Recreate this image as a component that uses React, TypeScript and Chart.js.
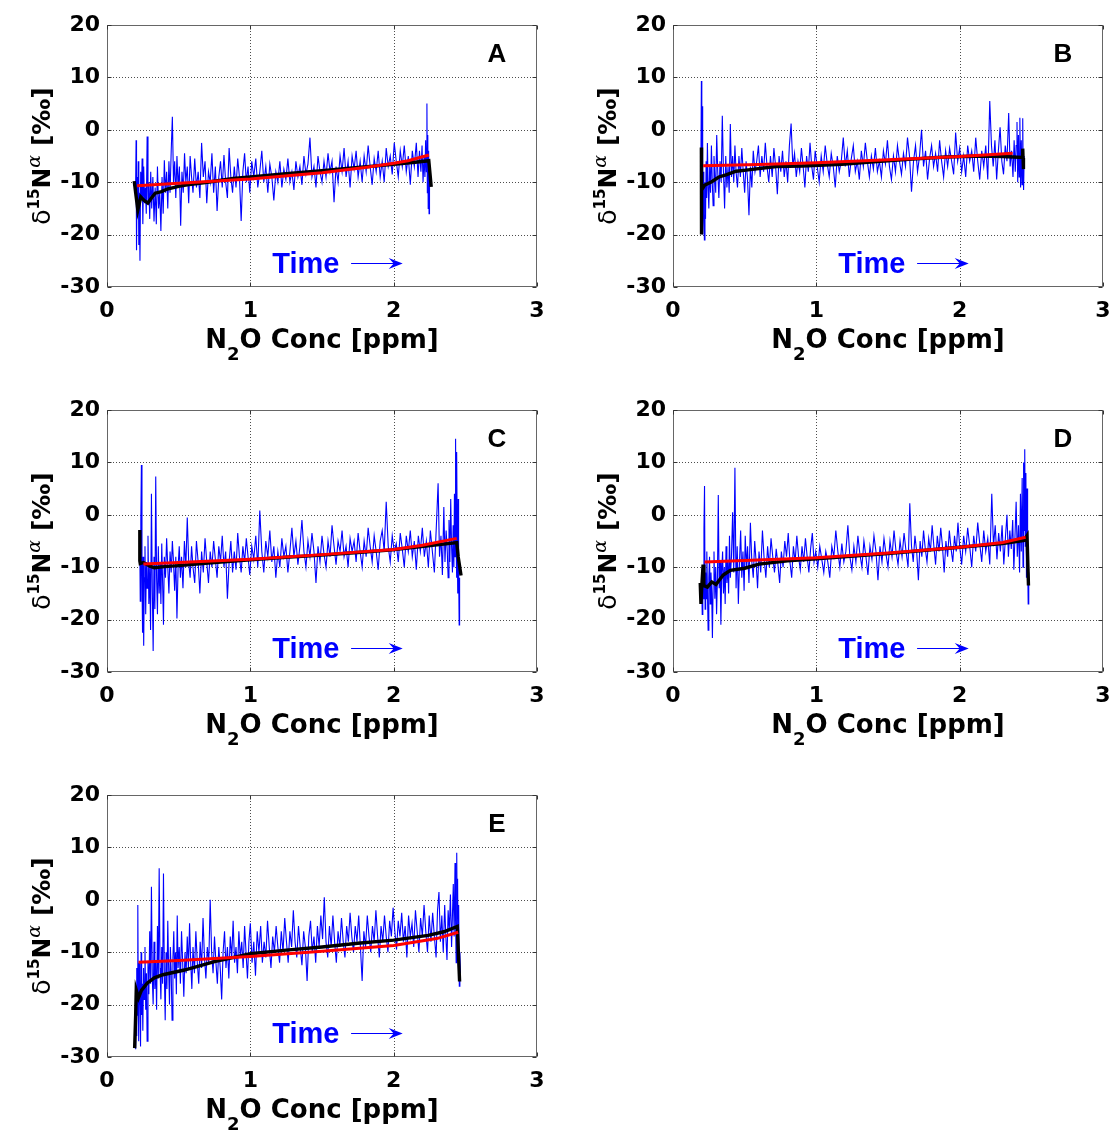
import React, { useEffect, useRef } from "react";
import { Chart, registerables } from "chart.js";

Chart.register(...registerables);

type P = [number, number];

// ---------- axis ticks ----------
const xTickValues = [0, 1, 2, 3];
const yTickValues = [-30, -20, -10, 0, 10, 20];

// ---------- text ----------
const panelLetters = ["A", "B", "C", "D", "E"];
const xTitleParts = ["N", "2", "O Conc [ppm]"];
const yTitleParts = ["\u03b4", "15", "N", "\u03b1", " [\u2030]"];
const timeLabel = "Time";

// ---------- panel A ----------
const blueA: P[] = [
  [0.2, -10], [0.203, -2], [0.206, -23], [0.21, -9], [0.214, -16], [0.218, -6], [0.222, -22], [0.226, -12],
  [0.23, -25], [0.235, -8], [0.24, -13], [0.245, -5.5], [0.25, -18], [0.256, -7], [0.262, -14], [0.268, -11],
  [0.274, -16], [0.28, -1.3], [0.286, -14], [0.292, -10], [0.298, -17], [0.305, -8], [0.312, -15], [0.32, -9],
  [0.328, -17.5], [0.336, -11], [0.344, -18], [0.352, -7], [0.36, -15], [0.368, -12], [0.376, -19.3], [0.384, -9],
  [0.392, -16], [0.4, -5.8], [0.408, -12], [0.416, -8], [0.424, -15], [0.432, -6], [0.44, -12], [0.448, -4],
  [0.456, 2.5], [0.464, -10], [0.472, -6], [0.48, -13], [0.488, -5], [0.496, -11], [0.505, -7], [0.514, -18.3],
  [0.523, -8], [0.532, -12], [0.541, -4.5], [0.55, -10], [0.56, -7], [0.57, -14], [0.58, -5], [0.59, -9],
  [0.6, -12], [0.612, -5.5], [0.624, -11], [0.636, -8], [0.648, -13], [0.66, -2.5], [0.672, -9], [0.684, -6],
  [0.696, -14], [0.708, -8], [0.72, -10], [0.732, -4.5], [0.744, -12], [0.756, -7], [0.768, -15.5], [0.78, -9],
  [0.792, -6], [0.804, -11], [0.816, -4.8], [0.828, -10], [0.84, -13], [0.852, -3.5], [0.864, -9], [0.876, -12],
  [0.888, -7], [0.9, -11], [0.912, -5.5], [0.924, -9], [0.936, -17.4], [0.948, -8], [0.96, -4.5], [0.972, -10],
  [0.984, -7], [0.996, -12], [1.01, -6], [1.024, -9], [1.038, -5.5], [1.052, -11], [1.066, -8], [1.08, -4],
  [1.094, -10], [1.108, -7], [1.122, -12], [1.136, -6.5], [1.15, -9], [1.164, -13.5], [1.178, -8], [1.192, -10],
  [1.206, -6], [1.22, -11], [1.234, -7.5], [1.248, -9.5], [1.262, -5.5], [1.276, -10], [1.29, -8], [1.304, -11.5],
  [1.318, -6], [1.332, -9], [1.346, -7], [1.36, -10.5], [1.374, -5], [1.388, -8.5], [1.402, -6.5], [1.416, -1.5],
  [1.43, -9], [1.444, -7], [1.458, -11], [1.472, -5], [1.486, -8], [1.5, -10], [1.514, -6], [1.528, -9],
  [1.542, -4.5], [1.556, -8], [1.57, -6], [1.584, -13.8], [1.598, -7], [1.612, -10], [1.626, -5], [1.64, -8],
  [1.654, -3.5], [1.668, -9], [1.682, -6], [1.696, -11], [1.71, -5], [1.724, -7.5], [1.738, -4], [1.752, -9],
  [1.766, -6], [1.78, -10], [1.794, -5], [1.808, -8], [1.822, -3], [1.836, -7], [1.85, -10.5], [1.864, -5.5],
  [1.878, -8], [1.892, -4], [1.906, -9], [1.92, -6], [1.934, -10], [1.948, -3.5], [1.962, -7], [1.976, -5],
  [1.99, -8.5], [2.004, -2.5], [2.018, -6], [2.032, -9], [2.046, -4], [2.06, -7], [2.074, -3], [2.088, -8],
  [2.102, -5], [2.116, -10.5], [2.13, -4], [2.144, -7], [2.158, -2.5], [2.17, -9], [2.18, -4], [2.19, -8],
  [2.198, -3], [2.205, -10], [2.212, -5], [2.218, -9], [2.223, -2], [2.228, -8], [2.232, 5], [2.235, -12],
  [2.238, -1], [2.241, -15], [2.244, -4], [2.247, -16], [2.25, -8],
];
const blackA: P[] = [
  [0.19, -9.8], [0.2, -12], [0.215, -15.3], [0.236, -12.8], [0.26, -13.5], [0.285, -14], [0.31, -13],
  [0.336, -12.1], [0.38, -11.8], [0.42, -11.3], [0.5, -10.8], [0.56, -10.5], [0.7, -10], [0.88, -9.3],
  [1.0, -9.0], [1.25, -8.4], [1.5, -7.8], [1.75, -7.2], [2.0, -6.6], [2.15, -6.2], [2.245, -5.9], [2.262, -10.9],
];
const redA: P[] = [
  [0.21, -10.7], [0.5, -10.2], [1.0, -9.4], [1.5, -8.2], [1.8, -7.2], [2.0, -6.4], [2.1, -5.9], [2.246, -4.8],
];

// ---------- panel B ----------
const blueB: P[] = [
  [0.195, -5], [0.198, 9.3], [0.201, -12], [0.204, 4.5], [0.207, -20], [0.211, -8], [0.215, -16], [0.219, -21],
  [0.223, -10], [0.227, -17], [0.231, -6], [0.235, -13], [0.24, -2.5], [0.245, -11], [0.25, -15], [0.256, -7],
  [0.262, -12], [0.268, -3], [0.274, -10], [0.28, -14.5], [0.286, -5], [0.292, -9], [0.298, -12], [0.305, -1],
  [0.312, -8], [0.32, -13], [0.328, -6], [0.336, -10], [0.344, 2.7], [0.352, -8], [0.36, -15], [0.368, -5],
  [0.376, -11], [0.384, -7], [0.392, -12], [0.4, 1.1], [0.408, -9], [0.416, -5], [0.424, -10], [0.432, -3],
  [0.44, -8], [0.45, -11], [0.46, -5], [0.47, -9], [0.48, -3.5], [0.49, -8], [0.5, -12], [0.51, -6],
  [0.52, -9.5], [0.53, -16.3], [0.54, -7], [0.55, -11], [0.56, -4], [0.572, -8], [0.584, -6], [0.596, -3],
  [0.608, -9], [0.62, -5], [0.632, -8], [0.644, -2.5], [0.656, -7], [0.668, -10], [0.68, -5], [0.692, -9],
  [0.704, -3.5], [0.716, -7], [0.728, -12.3], [0.74, -5], [0.752, -8], [0.764, -4], [0.776, -9], [0.788, -6],
  [0.8, -10], [0.812, -3], [0.824, 1.2], [0.836, -7], [0.848, -4.5], [0.86, -9], [0.872, -6], [0.884, -8],
  [0.896, -3.5], [0.908, -7], [0.92, -11], [0.932, -5], [0.944, -8], [0.956, -2.5], [0.968, -7], [0.98, -9.5],
  [0.992, -4], [1.006, -7], [1.02, -10], [1.034, -5], [1.048, -8], [1.062, -3], [1.076, -6.5], [1.09, -9],
  [1.104, -4.5], [1.118, -7], [1.132, -11], [1.146, -5], [1.16, -8], [1.174, -6], [1.188, -1.5], [1.202, -7],
  [1.216, -4], [1.23, -9], [1.244, -5.5], [1.258, -3], [1.272, -8], [1.286, -6], [1.3, -9.5], [1.314, -4],
  [1.328, -7], [1.342, -2.5], [1.356, -6], [1.37, -9], [1.384, -5], [1.398, -7.5], [1.412, -3.5], [1.426, -8],
  [1.44, -6], [1.454, -9], [1.468, -4], [1.482, -6.5], [1.496, -2], [1.51, -7], [1.524, -9.5], [1.538, -5],
  [1.552, -8], [1.566, -3], [1.58, -6], [1.594, -8.5], [1.608, -4.5], [1.622, -7], [1.636, -1.5], [1.65, -5],
  [1.664, -11.8], [1.678, -6], [1.692, -3], [1.706, -8], [1.72, -5], [1.734, 0], [1.748, -7], [1.762, -4],
  [1.776, -9.5], [1.79, -5.5], [1.804, -3], [1.818, -7], [1.832, -4.5], [1.846, -8], [1.86, -2], [1.874, -6],
  [1.888, -9], [1.902, -4], [1.916, -7], [1.93, -3.5], [1.944, -6], [1.958, -8.5], [1.972, -0.5], [1.986, -6],
  [2.0, -3.5], [2.014, -8], [2.028, -5], [2.042, -9], [2.056, -3], [2.07, -6], [2.084, -4], [2.098, -8],
  [2.112, -1.5], [2.126, -6], [2.14, -9.5], [2.154, -4], [2.168, -7], [2.182, -3], [2.196, -9.5], [2.21, 5.5],
  [2.222, -3], [2.234, -7], [2.246, -2], [2.258, -9.5], [2.27, -4], [2.282, 0.5], [2.294, -6], [2.306, -8.5],
  [2.318, -3], [2.33, -6], [2.342, 3.2], [2.352, -7], [2.362, -4], [2.372, -9], [2.38, -2], [2.388, -8],
  [2.394, -3], [2.4, 1.5], [2.405, -10], [2.41, -1], [2.415, -9], [2.42, 2.3], [2.425, -11], [2.43, -2],
  [2.435, -10.5], [2.44, 2.2], [2.443, -8], [2.446, -11.5], [2.45, -5],
];
const blackB: P[] = [
  [0.198, -3.4], [0.198, -20], [0.2, -11.5], [0.22, -10.6], [0.27, -9.9], [0.32, -9.0], [0.37, -8.6],
  [0.44, -7.9], [0.51, -7.7], [0.72, -7.0], [0.9, -6.9], [1.18, -6.6], [1.4, -6.1], [1.67, -5.6],
  [1.9, -5.2], [2.16, -5.0], [2.3, -5.1], [2.44, -5.3], [2.44, -3.6], [2.445, -7.5], [2.445, -5.4],
];
const redB: P[] = [
  [0.21, -6.85], [0.6, -6.6], [1.0, -6.3], [1.5, -5.7], [2.0, -5.1], [2.37, -4.46],
];

// ---------- panel C ----------
const blueC: P[] = [
  [0.228, -3], [0.232, -16.5], [0.236, -1], [0.24, 9.5], [0.244, -12], [0.248, -22.5], [0.252, -8], [0.256, -25],
  [0.26, -12], [0.265, -6], [0.27, -19], [0.275, -9], [0.28, -14], [0.286, -4], [0.292, -17], [0.298, -10],
  [0.304, -22], [0.31, 4], [0.316, -14], [0.322, -26], [0.328, -8], [0.334, -18], [0.34, 7.3], [0.346, -12],
  [0.352, -19], [0.358, -6], [0.364, -15], [0.37, -9], [0.376, -17], [0.382, -5.5], [0.388, -13], [0.394, -21],
  [0.4, -8], [0.408, -12], [0.416, -4.5], [0.424, -10], [0.432, -15], [0.44, -7], [0.448, -11], [0.456, -5],
  [0.464, -9], [0.472, -14.5], [0.48, -8], [0.488, -19.8], [0.496, -10], [0.504, -6], [0.512, -12], [0.52, -8],
  [0.53, -14], [0.54, -5], [0.55, -10], [0.56, -0.5], [0.57, -9], [0.58, -12], [0.59, -6], [0.6, -10],
  [0.612, -13], [0.624, -5], [0.636, -9], [0.648, -15], [0.66, -7], [0.672, -11], [0.684, -4.5], [0.696, -9],
  [0.708, -13], [0.72, -7], [0.732, -10], [0.744, -5], [0.756, -8.5], [0.768, -12], [0.78, -6], [0.792, -9],
  [0.804, -4], [0.816, -10], [0.828, -7], [0.84, -16], [0.852, -9], [0.864, -5], [0.876, -11], [0.888, -7],
  [0.9, -10.5], [0.912, -3.5], [0.924, -8], [0.936, -11], [0.948, -6], [0.96, -9], [0.972, -4.5], [0.984, -8],
  [0.996, -11.5], [1.01, -6], [1.024, -8.5], [1.038, -4], [1.052, -10], [1.066, 0.8], [1.08, -7], [1.094, -11],
  [1.108, -5], [1.122, -8], [1.136, -3], [1.15, -9], [1.164, -6], [1.178, -12], [1.192, -7], [1.206, -10],
  [1.22, -4.5], [1.234, -8], [1.248, -6], [1.262, -11], [1.276, -7], [1.29, -2.5], [1.304, -8], [1.318, -5],
  [1.332, -9.5], [1.346, -6], [1.36, -1], [1.374, -7], [1.388, -10], [1.402, -5], [1.416, -8], [1.43, -3.5],
  [1.444, -7], [1.458, -13], [1.472, -6], [1.486, -9], [1.5, -4], [1.514, -7.5], [1.528, -10], [1.542, -5],
  [1.556, -8], [1.57, -2], [1.584, -6], [1.598, -9.5], [1.612, -5], [1.626, -7], [1.64, -3], [1.654, -8],
  [1.668, -6], [1.682, -10], [1.696, -4.5], [1.71, -7], [1.724, -5], [1.738, -9], [1.752, -3.5], [1.766, -7],
  [1.78, -10], [1.794, -5], [1.808, -8], [1.822, -2.5], [1.836, -6], [1.85, -9], [1.864, -4], [1.878, -7],
  [1.892, -10.5], [1.906, -5], [1.92, -3], [1.934, -7], [1.948, 2.5], [1.962, -6], [1.976, -9], [1.99, -4],
  [2.004, -7], [2.018, -5.5], [2.032, -9], [2.046, -3.5], [2.06, -6.5], [2.074, -10], [2.088, -4], [2.102, -7],
  [2.116, -3], [2.13, -8], [2.144, -5], [2.158, -10.5], [2.172, -4], [2.186, -7], [2.2, -2.5], [2.214, -8],
  [2.228, -5], [2.242, -10], [2.256, -3], [2.27, -7], [2.284, -11], [2.298, -2], [2.31, 6], [2.32, -8],
  [2.33, -4], [2.34, -11.5], [2.35, 1.5], [2.358, -9], [2.366, -3], [2.374, -7], [2.38, -12], [2.386, -1],
  [2.392, -9], [2.398, 3], [2.404, -6], [2.41, -11], [2.415, -2], [2.42, -10], [2.424, 4], [2.428, -8],
  [2.432, 14.5], [2.435, -4], [2.438, -12], [2.441, 12], [2.444, -6], [2.447, -15], [2.45, 3], [2.453, -10],
  [2.457, -21], [2.46, -12],
];
const blackC: P[] = [
  [0.229, -2.9], [0.229, -8.8], [0.232, -9.3], [0.254, -9.1], [0.3, -9.8], [0.33, -10.1], [0.4, -9.9],
  [0.5, -9.7], [0.75, -9.1], [1.0, -8.6], [1.25, -8.1], [1.5, -7.7], [1.75, -7.2], [1.99, -6.7],
  [2.24, -5.9], [2.38, -5.5], [2.44, -5.3], [2.45, -8], [2.47, -11.6],
];
const redC: P[] = [
  [0.254, -9.4], [0.5, -9.1], [1.0, -8.5], [1.5, -7.6], [2.0, -6.6], [2.2, -5.8], [2.44, -4.5],
];

// ---------- panel D ----------
const blueD: P[] = [
  [0.2, -13], [0.204, -19], [0.208, -10], [0.212, -16], [0.216, -2.5], [0.22, 5.5], [0.224, -18], [0.228, -11],
  [0.232, -16], [0.236, -7], [0.24, -14], [0.245, -22], [0.25, -12], [0.255, -8], [0.26, -17], [0.265, -11],
  [0.27, -15], [0.275, -23.5], [0.28, -13], [0.286, -7], [0.292, -16], [0.298, -10], [0.304, -19], [0.31, -12],
  [0.316, 3.8], [0.322, -14], [0.328, -9], [0.334, -21], [0.34, -11], [0.346, -7], [0.352, -15], [0.358, -10],
  [0.364, -17], [0.37, -6], [0.376, -13], [0.382, -9], [0.388, -15], [0.394, -4], [0.4, -12], [0.408, -8],
  [0.416, 0.5], [0.424, -11], [0.432, 9], [0.44, -14], [0.448, -6], [0.456, -17], [0.464, -9], [0.472, -3],
  [0.48, -12], [0.488, -7], [0.496, -14.5], [0.504, -4], [0.512, -10], [0.52, -6], [0.53, -13], [0.54, -1.5],
  [0.55, -9], [0.56, -12], [0.57, -5], [0.58, -9], [0.59, -14], [0.6, -7], [0.612, -11], [0.624, -3],
  [0.636, -8.5], [0.648, -12], [0.66, -6], [0.672, -10], [0.684, -4.5], [0.696, -8], [0.708, -11], [0.72, -6.5],
  [0.732, -9.5], [0.744, -13], [0.756, -7], [0.768, -10], [0.78, -5], [0.792, -8], [0.804, -3.5], [0.816, -9],
  [0.828, -12], [0.84, -6], [0.852, -9], [0.864, -4], [0.876, -8], [0.888, -10.5], [0.9, -6], [0.912, -9],
  [0.924, -4.5], [0.936, -8], [0.948, -11], [0.96, -6.5], [0.972, -3.5], [0.984, -9], [0.996, -7], [1.01, -10],
  [1.024, -6], [1.038, -8.5], [1.052, -11], [1.066, -7], [1.08, -9], [1.094, -12], [1.108, -6], [1.122, -8],
  [1.136, -3], [1.15, -7], [1.164, -10], [1.178, -5.5], [1.192, -9], [1.206, -7], [1.22, -2], [1.234, -8],
  [1.248, -10.5], [1.262, -6], [1.276, -9], [1.29, -4], [1.304, -7.5], [1.318, -10], [1.332, -5], [1.346, -8],
  [1.36, -11.5], [1.374, -6], [1.388, -8.5], [1.402, -4], [1.416, -7], [1.43, -12.5], [1.444, -6], [1.458, -9],
  [1.472, -4.5], [1.486, -7.5], [1.5, -10], [1.514, -5], [1.528, -8], [1.542, -3], [1.556, -7], [1.57, -9.5],
  [1.584, -5], [1.598, -8], [1.612, -3.5], [1.626, -7], [1.64, -10], [1.652, 2.2], [1.664, -6], [1.676, -9],
  [1.688, -4], [1.7, -7], [1.712, -12.5], [1.724, -5], [1.736, -8], [1.748, -3], [1.76, -6.5], [1.772, -9],
  [1.784, -4.5], [1.796, -7], [1.808, -2], [1.82, -6], [1.832, -9.5], [1.844, -4], [1.856, -7], [1.868, -2.5],
  [1.88, -6], [1.892, -11], [1.904, -5], [1.916, -8], [1.928, -3], [1.94, -6.5], [1.952, -9], [1.964, -4],
  [1.976, -7], [1.988, -1.5], [2.0, -6], [2.014, -9.5], [2.028, -4], [2.042, -7], [2.056, -2.5], [2.07, -6],
  [2.084, -10], [2.098, -4], [2.112, -7], [2.126, -1.5], [2.14, -5.5], [2.154, -9], [2.168, -3], [2.182, -7],
  [2.196, -4.5], [2.21, -9.5], [2.224, 4], [2.236, -6], [2.248, -2], [2.26, -8.5], [2.272, -3.5], [2.284, -7],
  [2.296, -2], [2.308, -9.5], [2.32, -4], [2.33, 0], [2.34, -8], [2.35, -3], [2.36, -6.5], [2.37, -1],
  [2.378, -10.5], [2.386, -4], [2.394, 2.5], [2.402, -8], [2.41, -2], [2.418, -11], [2.424, 4], [2.43, -7],
  [2.436, 7], [2.442, -10], [2.446, 10], [2.45, -3], [2.454, 12.5], [2.458, -6], [2.462, 8], [2.466, -12],
  [2.47, 5], [2.474, -8], [2.478, -17], [2.482, -11],
];
const blackD: P[] = [
  [0.19, -13], [0.195, -17], [0.2, -14], [0.21, -9.5], [0.215, -13.5], [0.24, -13.8], [0.27, -12.8],
  [0.3, -13.3], [0.35, -11.5], [0.4, -10.6], [0.5, -10.2], [0.6, -9.4], [0.8, -8.8], [1.0, -8.4],
  [1.5, -7.4], [2.0, -6.2], [2.3, -5.5], [2.45, -4.9], [2.47, -4.0], [2.48, -13.5],
];
const redD: P[] = [
  [0.22, -9.0], [0.5, -8.7], [1.0, -8.2], [1.5, -7.3], [2.0, -6.2], [2.3, -5.3], [2.46, -4.3],
];

// ---------- panel E ----------
const blueE: P[] = [
  [0.2, -28.5], [0.203, -20], [0.206, -26], [0.209, -13], [0.212, -22], [0.215, -1], [0.218, -18], [0.221, -27],
  [0.224, -12], [0.227, -20], [0.23, -15], [0.234, -28], [0.238, -10], [0.242, -22], [0.246, -16], [0.25, -25],
  [0.255, -13], [0.26, -19], [0.265, -9], [0.27, -21], [0.275, -14], [0.28, -27], [0.286, -12], [0.292, -18],
  [0.298, -6], [0.304, -16], [0.31, 2.5], [0.316, -15], [0.322, -20], [0.328, -8], [0.334, -17], [0.34, -12],
  [0.346, -21], [0.352, -5], [0.358, -15], [0.364, 6], [0.37, -13], [0.376, -19], [0.382, -9], [0.388, -16],
  [0.394, 5], [0.4, -14], [0.406, -23], [0.412, -10], [0.418, -17], [0.424, -4], [0.43, -13], [0.436, -20],
  [0.442, -9], [0.448, -14], [0.454, -23], [0.46, -11], [0.466, -6], [0.472, -15], [0.478, -10], [0.484, -18],
  [0.49, -3], [0.496, -13], [0.504, -9], [0.512, -16], [0.52, -6], [0.528, -12], [0.536, -18.5], [0.544, -10],
  [0.552, -14], [0.56, -7], [0.568, -13], [0.576, -4.5], [0.584, -12], [0.592, -17], [0.6, -9], [0.61, -14],
  [0.62, -6], [0.63, -12], [0.64, -16], [0.65, -8], [0.66, -13], [0.67, -3.5], [0.68, -11], [0.69, -15],
  [0.7, -9], [0.71, -12], [0.72, 0], [0.73, -10], [0.74, -14], [0.75, -7], [0.76, -12], [0.77, -16],
  [0.78, -9], [0.79, -13], [0.8, -19], [0.81, -10], [0.82, -6], [0.83, -13], [0.84, -9], [0.85, -15],
  [0.86, -7], [0.87, -11], [0.88, -4], [0.89, -12], [0.9, -9], [0.91, -14], [0.92, -6], [0.93, -11],
  [0.94, -8], [0.95, -13], [0.96, -5], [0.97, -10], [0.98, -15], [0.99, -8], [1.0, -4.5], [1.012, -12],
  [1.024, -8], [1.036, -14.5], [1.048, -6], [1.06, -10], [1.072, -5], [1.084, -12], [1.096, -8], [1.108, -11],
  [1.12, -4], [1.132, -9], [1.144, -13], [1.156, -7], [1.168, -10], [1.18, -5], [1.192, -9], [1.204, -12],
  [1.216, -6], [1.228, -10], [1.24, -3.5], [1.252, -8], [1.264, -12], [1.276, -6], [1.288, -9], [1.3, -2],
  [1.312, -8], [1.324, -11], [1.336, -5], [1.348, -9], [1.36, -12.5], [1.372, -6], [1.384, -9], [1.396, -15.5],
  [1.408, -7], [1.42, -4], [1.432, -10], [1.444, -7], [1.456, -12], [1.468, -5], [1.48, -9], [1.492, -3],
  [1.504, -7.5], [1.516, 0.5], [1.528, -8], [1.54, -11], [1.552, -5], [1.564, -9], [1.576, -3], [1.588, -8],
  [1.6, -12], [1.612, -6], [1.624, -9], [1.636, -3.5], [1.648, -8], [1.66, -11], [1.672, -5], [1.684, -8],
  [1.696, -2.5], [1.708, -7], [1.72, -10], [1.732, -5], [1.744, -8], [1.756, -3], [1.768, -9], [1.78, -15.5],
  [1.792, -6], [1.804, -9], [1.816, -3], [1.828, -7], [1.84, -10], [1.852, -5], [1.864, -8], [1.876, -2],
  [1.888, -7], [1.9, -11], [1.912, -5], [1.924, -8], [1.936, -3], [1.948, -7], [1.96, -10], [1.972, -4],
  [1.984, -7], [1.996, -1.5], [2.008, -6], [2.02, -9.5], [2.032, -4], [2.044, -7], [2.056, -2.5], [2.068, -8],
  [2.08, -5], [2.092, -11], [2.104, -3], [2.116, -7], [2.128, -4.5], [2.14, -9], [2.152, -2], [2.164, -6],
  [2.176, -10], [2.188, -3.5], [2.2, -7], [2.212, -1], [2.224, -6], [2.236, -10], [2.248, -3], [2.26, -8],
  [2.272, -2.5], [2.284, -7], [2.296, -11], [2.306, -2], [2.316, 1.5], [2.326, -8], [2.336, -3], [2.346, -10],
  [2.356, -1], [2.364, -7], [2.372, -11.5], [2.38, -2], [2.388, -6], [2.396, 1], [2.404, -9], [2.41, -3],
  [2.416, 3], [2.422, -7], [2.428, 7], [2.432, -4], [2.436, -12], [2.44, 9], [2.443, -2], [2.446, 4],
  [2.449, -8], [2.452, -14], [2.455, -1], [2.458, -16.5], [2.462, -10], [2.466, -14],
];
const blackE: P[] = [
  [0.193, -28.3], [0.2, -22], [0.204, -17.2], [0.22, -18.7], [0.24, -17.3], [0.28, -15.9], [0.33, -14.9],
  [0.39, -14.3], [0.54, -13.4], [0.75, -11.8], [1.0, -10.3], [1.25, -9.6], [1.5, -9.0], [1.75, -8.3],
  [2.0, -7.7], [2.24, -6.8], [2.35, -6.1], [2.444, -5.1], [2.46, -15.6],
];
const redE: P[] = [
  [0.22, -11.9], [0.5, -11.6], [1.0, -10.8], [1.5, -9.8], [2.0, -8.7], [2.3, -7.4], [2.45, -6.2],
];

// ---------- annotation anchors (data coordinates) ----------
const timeAnchor = { x: 1.153, y: -27.3 };
const arrowFrom = { x: 1.703, y: -25.4 };
const arrowTo = { x: 2.063, y: -25.4 };
const letterAnchor = { x: 2.72, y: 14.3 };

const panels = [
  { letter: panelLetters[0], blue: blueA, black: blackA, red: redA, left: 0, top: 0 },
  { letter: panelLetters[1], blue: blueB, black: blackB, red: redB, left: 566, top: 0 },
  { letter: panelLetters[2], blue: blueC, black: blackC, red: redC, left: 0, top: 385 },
  { letter: panelLetters[3], blue: blueD, black: blackD, red: redD, left: 566, top: 385 },
  { letter: panelLetters[4], blue: blueE, black: blackE, red: redE, left: 0, top: 770 },
];

const CW = 548;
const CH = 366;
const TICK_FONT = "DejaVu Sans";
const LABEL_FONT = "DejaVu Sans";

function decoPlugin(letter: string) {
  return {
    id: "deco",
    beforeDatasetsDraw(chart: any) {
      const { ctx, chartArea: a, scales } = chart;
      const xs = scales.x;
      const ys = scales.y;
      ctx.save();
      ctx.strokeStyle = "#4d4d4d";
      ctx.lineWidth = 1;
      ctx.setLineDash([1, 2]);
      for (const v of xTickValues) {
        if (v <= xs.min || v >= xs.max) continue;
        const px = Math.round(xs.getPixelForValue(v)) + 0.5;
        ctx.beginPath();
        ctx.moveTo(px, a.top);
        ctx.lineTo(px, a.bottom);
        ctx.stroke();
      }
      for (const v of yTickValues) {
        if (v <= ys.min || v >= ys.max) continue;
        const py = Math.round(ys.getPixelForValue(v)) + 0.5;
        ctx.beginPath();
        ctx.moveTo(a.left, py);
        ctx.lineTo(a.right, py);
        ctx.stroke();
      }
      ctx.restore();
    },
    afterDatasetsDraw(chart: any) {
      const { ctx, chartArea: a, scales } = chart;
      const xs = scales.x;
      const ys = scales.y;
      ctx.save();
      ctx.strokeStyle = "#666666";
      ctx.lineWidth = 1;
      ctx.setLineDash([]);
      const l = Math.round(a.left) + 0.5;
      const r = Math.round(a.right) - 0.5;
      const t = Math.round(a.top) + 0.5;
      const b = Math.round(a.bottom) - 0.5;
      ctx.strokeRect(l, t, r - l, b - t);
      const tl = 4;
      ctx.strokeStyle = "#333333";
      ctx.beginPath();
      for (const v of xTickValues) {
        const px = Math.round(xs.getPixelForValue(v)) + 0.5;
        ctx.moveTo(px, b);
        ctx.lineTo(px, b - tl);
        ctx.moveTo(px, t);
        ctx.lineTo(px, t + tl);
      }
      for (const v of yTickValues) {
        const py = Math.round(ys.getPixelForValue(v)) + 0.5;
        ctx.moveTo(l, py);
        ctx.lineTo(l + tl, py);
        ctx.moveTo(r, py);
        ctx.lineTo(r - tl, py);
      }
      ctx.stroke();
      ctx.restore();
    },
    afterDraw(chart: any) {
      const { ctx, chartArea: a, scales } = chart;
      const xs = scales.x;
      const ys = scales.y;
      ctx.save();
      ctx.fillStyle = "#000";
      ctx.textBaseline = "alphabetic";
      ctx.textAlign = "left";

      // x title: N2O Conc [ppm]
      const big = `bold 26px "${LABEL_FONT}"`;
      const sub = `bold 18px "${LABEL_FONT}"`;
      ctx.font = big;
      const w1 = ctx.measureText(xTitleParts[0]).width;
      const w3 = ctx.measureText(xTitleParts[2]).width;
      ctx.font = sub;
      const w2 = ctx.measureText(xTitleParts[1]).width;
      const cx = (a.left + a.right) / 2;
      const by = a.bottom + 61;
      let sx = cx - (w1 + w2 + w3) / 2;
      ctx.font = big;
      ctx.fillText(xTitleParts[0], sx, by);
      sx += w1;
      ctx.font = sub;
      ctx.fillText(xTitleParts[1], sx, by + 12);
      sx += w2;
      ctx.font = big;
      ctx.fillText(xTitleParts[2], sx, by);

      // y title: δ15Nα [‰] rotated
      const ybig = `bold 25px "${LABEL_FONT}"`;
      const fonts = [
        `25px "DejaVu Sans"`,
        `bold 15px "${LABEL_FONT}"`,
        ybig,
        `italic 19px "DejaVu Serif"`,
        ybig,
      ];
      const rise = [0, -11, 0, -10, 0];
      const widths = yTitleParts.map((s, i) => {
        ctx.font = fonts[i];
        return ctx.measureText(s).width;
      });
      const total = widths.reduce((p, c) => p + c, 0);
      ctx.save();
      ctx.translate(a.left - 57, (a.top + a.bottom) / 2);
      ctx.rotate(-Math.PI / 2);
      let yx = -total / 2;
      yTitleParts.forEach((s, i) => {
        ctx.font = fonts[i];
        ctx.fillText(s, yx, rise[i]);
        yx += widths[i];
      });
      ctx.restore();

      // panel letter
      ctx.font = `bold 26px "Liberation Sans"`;
      ctx.textAlign = "center";
      ctx.textBaseline = "middle";
      ctx.fillText(letter, xs.getPixelForValue(letterAnchor.x), ys.getPixelForValue(letterAnchor.y));

      // Time ->
      ctx.fillStyle = "#0000ff";
      ctx.strokeStyle = "#0000ff";
      ctx.font = `bold 29px "Liberation Sans"`;
      ctx.textAlign = "left";
      ctx.textBaseline = "alphabetic";
      ctx.fillText(timeLabel, xs.getPixelForValue(timeAnchor.x), ys.getPixelForValue(timeAnchor.y));
      const ax0 = xs.getPixelForValue(arrowFrom.x);
      const ax1 = xs.getPixelForValue(arrowTo.x);
      const ay = Math.round(ys.getPixelForValue(arrowFrom.y)) + 0.5;
      ctx.lineWidth = 1;
      ctx.beginPath();
      ctx.moveTo(ax0, ay);
      ctx.lineTo(ax1 - 8, ay);
      ctx.stroke();
      ctx.beginPath();
      ctx.moveTo(ax1, ay);
      ctx.lineTo(ax1 - 14, ay - 5.5);
      ctx.lineTo(ax1 - 9, ay);
      ctx.lineTo(ax1 - 14, ay + 5.5);
      ctx.closePath();
      ctx.fill();
      ctx.restore();
    },
  };
}

function Panel(props: { letter: string; blue: P[]; black: P[]; red: P[]; left: number; top: number }) {
  const ref = useRef<HTMLCanvasElement | null>(null);
  useEffect(() => {
    const canvas = ref.current;
    if (!canvas) return;
    const toXY = (arr: P[]) => arr.map(([x, y]) => ({ x, y }));
    const tickFont = { family: TICK_FONT, weight: "bold" as const, size: 22 };
    const chart = new Chart(canvas, {
      type: "scatter",
      data: {
        datasets: [
          {
            data: toXY(props.blue),
            showLine: true,
            borderColor: "#0000ff",
            borderWidth: 1.1,
            pointRadius: 0,
            order: 3,
          },
          {
            data: toXY(props.black),
            showLine: true,
            borderColor: "#000000",
            borderWidth: 3.4,
            pointRadius: 0,
            order: 2,
          },
          {
            data: toXY(props.red),
            showLine: true,
            borderColor: "#ff0000",
            borderWidth: 3,
            pointRadius: 0,
            order: 1,
          },
        ],
      },
      options: {
        responsive: false,
        animation: false,
        events: [],
        devicePixelRatio: 1,
        layout: { padding: { top: 25, right: 11, left: 0, bottom: 0 } },
        plugins: { legend: { display: false }, tooltip: { enabled: false }, title: { display: false } },
        scales: {
          x: {
            type: "linear",
            min: 0,
            max: 3,
            afterBuildTicks: (s: any) => {
              s.ticks = xTickValues.map((v) => ({ value: v }));
            },
            ticks: { color: "#000", font: tickFont, padding: 11, maxRotation: 0, autoSkip: false },
            grid: { display: false, drawTicks: false },
            border: { display: false },
            afterFit: (s: any) => {
              s.height = 79;
              s.paddingLeft = 0;
              s.paddingRight = 0;
            },
          },
          y: {
            type: "linear",
            min: -30,
            max: 20,
            afterBuildTicks: (s: any) => {
              s.ticks = yTickValues.map((v) => ({ value: v }));
            },
            ticks: { color: "#000", font: tickFont, padding: 7, autoSkip: false },
            grid: { display: false, drawTicks: false },
            border: { display: false },
            afterFit: (s: any) => {
              s.width = 107;
              s.paddingTop = 0;
              s.paddingBottom = 0;
            },
          },
        },
      },
      plugins: [decoPlugin(props.letter)],
    } as any);
    return () => chart.destroy();
  }, []);
  return (
    <canvas
      ref={ref}
      width={CW}
      height={CH}
      style={{ position: "absolute", left: props.left, top: props.top, width: CW, height: CH }}
    />
  );
}

export default function App() {
  return (
    <div style={{ position: "absolute", left: 0, top: 0, width: 1114, height: 1136, background: "#fff", overflow: "hidden" }}>
      {panels.map((p) => (
        <Panel key={p.letter} {...p} />
      ))}
    </div>
  );
}
